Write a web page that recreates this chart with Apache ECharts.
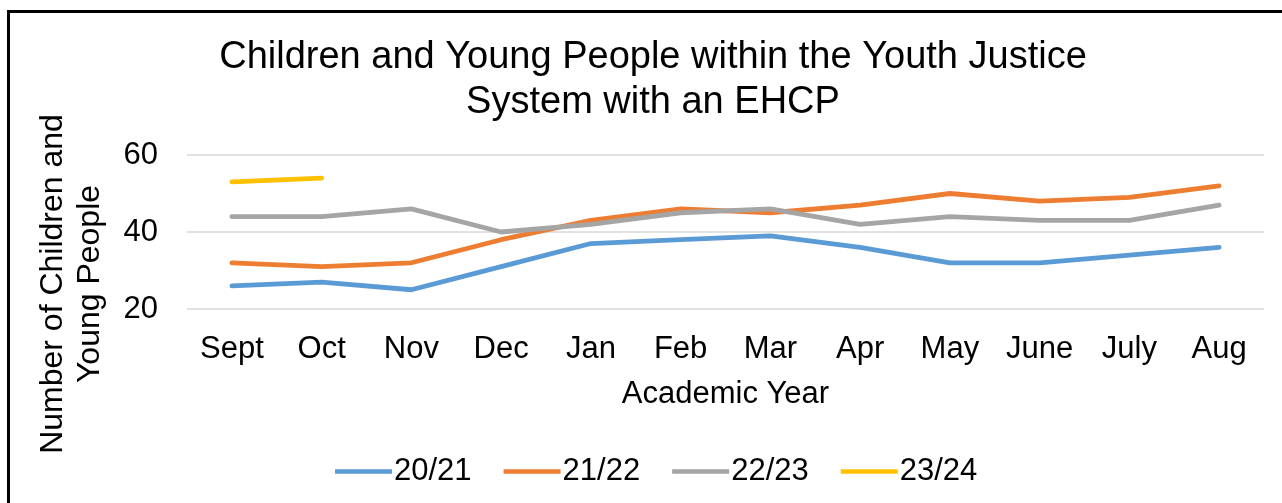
<!DOCTYPE html>
<html>
<head>
<meta charset="utf-8">
<script src="https://cdn.jsdelivr.net/npm/echarts@6/dist/echarts.min.js"></script>
<style>
  html, body { margin: 0; padding: 0; background: #fff; overflow: hidden; }
  #chart { position: absolute; left: 0; top: 0; width: 1282px; height: 503px; }
  #frame { position: absolute; left: 7px; top: 10px; width: 1300px; height: 520px;
           border-left: 3px solid #000; border-top: 3px solid #000; pointer-events: none; }
</style>
</head>
<body>
<div id="chart"></div>
<div id="frame"></div>
<script>
const titleText = 'Children and Young People within the Youth Justice\nSystem with an EHCP';
const xAxisTitle = 'Academic Year';
const yAxisTitle = 'Number of Children and\nYoung People';
const months = ['Sept', 'Oct', 'Nov', 'Dec', 'Jan', 'Feb', 'Mar', 'Apr', 'May', 'June', 'July', 'Aug'];
const seriesNames = ['20/21', '21/22', '22/23', '23/24'];
const y2021 = [26, 27, 25, 31, 37, 38, 39, 36, 32, 32, 34, 36];
const y2122 = [32, 31, 32, 38, 43, 46, 45, 47, 50, 48, 49, 52];
const y2223 = [44, 44, 46, 40, 42, 45, 46, 42, 44, 43, 43, 47];
const y2324 = [53, 54];
const yTicks = [20, 40, 60];

const colors = ['#5B9BD5', '#ED7D31', '#A5A5A5', '#FFC000'];
const FONT = 'Liberation Sans, Arial, sans-serif';

const chart = echarts.init(document.getElementById('chart'), null, { renderer: 'canvas' });
const dataSets = [y2021, y2122, y2223, y2324];

chart.setOption({
  animation: false,
  backgroundColor: '#fff',
  color: colors,
  title: {
    text: titleText,
    left: 648,
    top: 30,
    textAlign: 'center',
    textStyle: { fontFamily: FONT, fontSize: 38, fontWeight: 'normal', color: '#000', lineHeight: 45 }
  },
  legend: {
    data: seriesNames,
    left: 330,
    top: 451,
    itemWidth: 57,
    itemHeight: 14,
    itemGap: 32,
    icon: 'path://M0,0 L100,0 L100,8 L0,8 Z',
    textStyle: { fontFamily: FONT, fontSize: 31, color: '#000', padding: [0, 0, 0, -3] }
  },
  grid: {
    left: 187, right: 18, top: 155, bottom: 194,
    containLabel: false, outerBoundsMode: 'none'
  },
  xAxis: {
    type: 'category',
    data: months,
    boundaryGap: true,
    name: xAxisTitle,
    nameLocation: 'middle',
    nameGap: 70,
    nameTextStyle: { fontFamily: FONT, fontSize: 31, color: '#000' },
    axisLine: { show: false },
    axisTick: { show: false },
    axisLabel: { fontFamily: FONT, fontSize: 31, color: '#000', margin: 25, interval: 0 }
  },
  yAxis: {
    type: 'value',
    min: yTicks[0],
    max: yTicks[yTicks.length - 1],
    interval: yTicks[1] - yTicks[0],
    axisLine: { show: false },
    axisTick: { show: false },
    axisLabel: { fontFamily: FONT, fontSize: 31, color: '#000', margin: 29 },
    splitLine: { lineStyle: { color: '#D9D9D9', width: 1.5 } }
  },
  graphic: [{
    type: 'text',
    x: 72,
    y: 284,
    rotation: Math.PI / 2,
    style: {
      text: yAxisTitle,
      fontFamily: FONT,
      fontSize: 32,
      lineHeight: 37,
      fill: '#000',
      align: 'center',
      verticalAlign: 'middle'
    }
  }],
  series: seriesNames.map((n, i) => ({
    name: n,
    type: 'line',
    data: dataSets[i],
    symbol: 'none',
    smooth: false,
    lineStyle: { width: 4.8, color: colors[i], cap: 'round', join: 'round' },
    itemStyle: { color: colors[i] }
  }))
});
</script>
</body>
</html>
